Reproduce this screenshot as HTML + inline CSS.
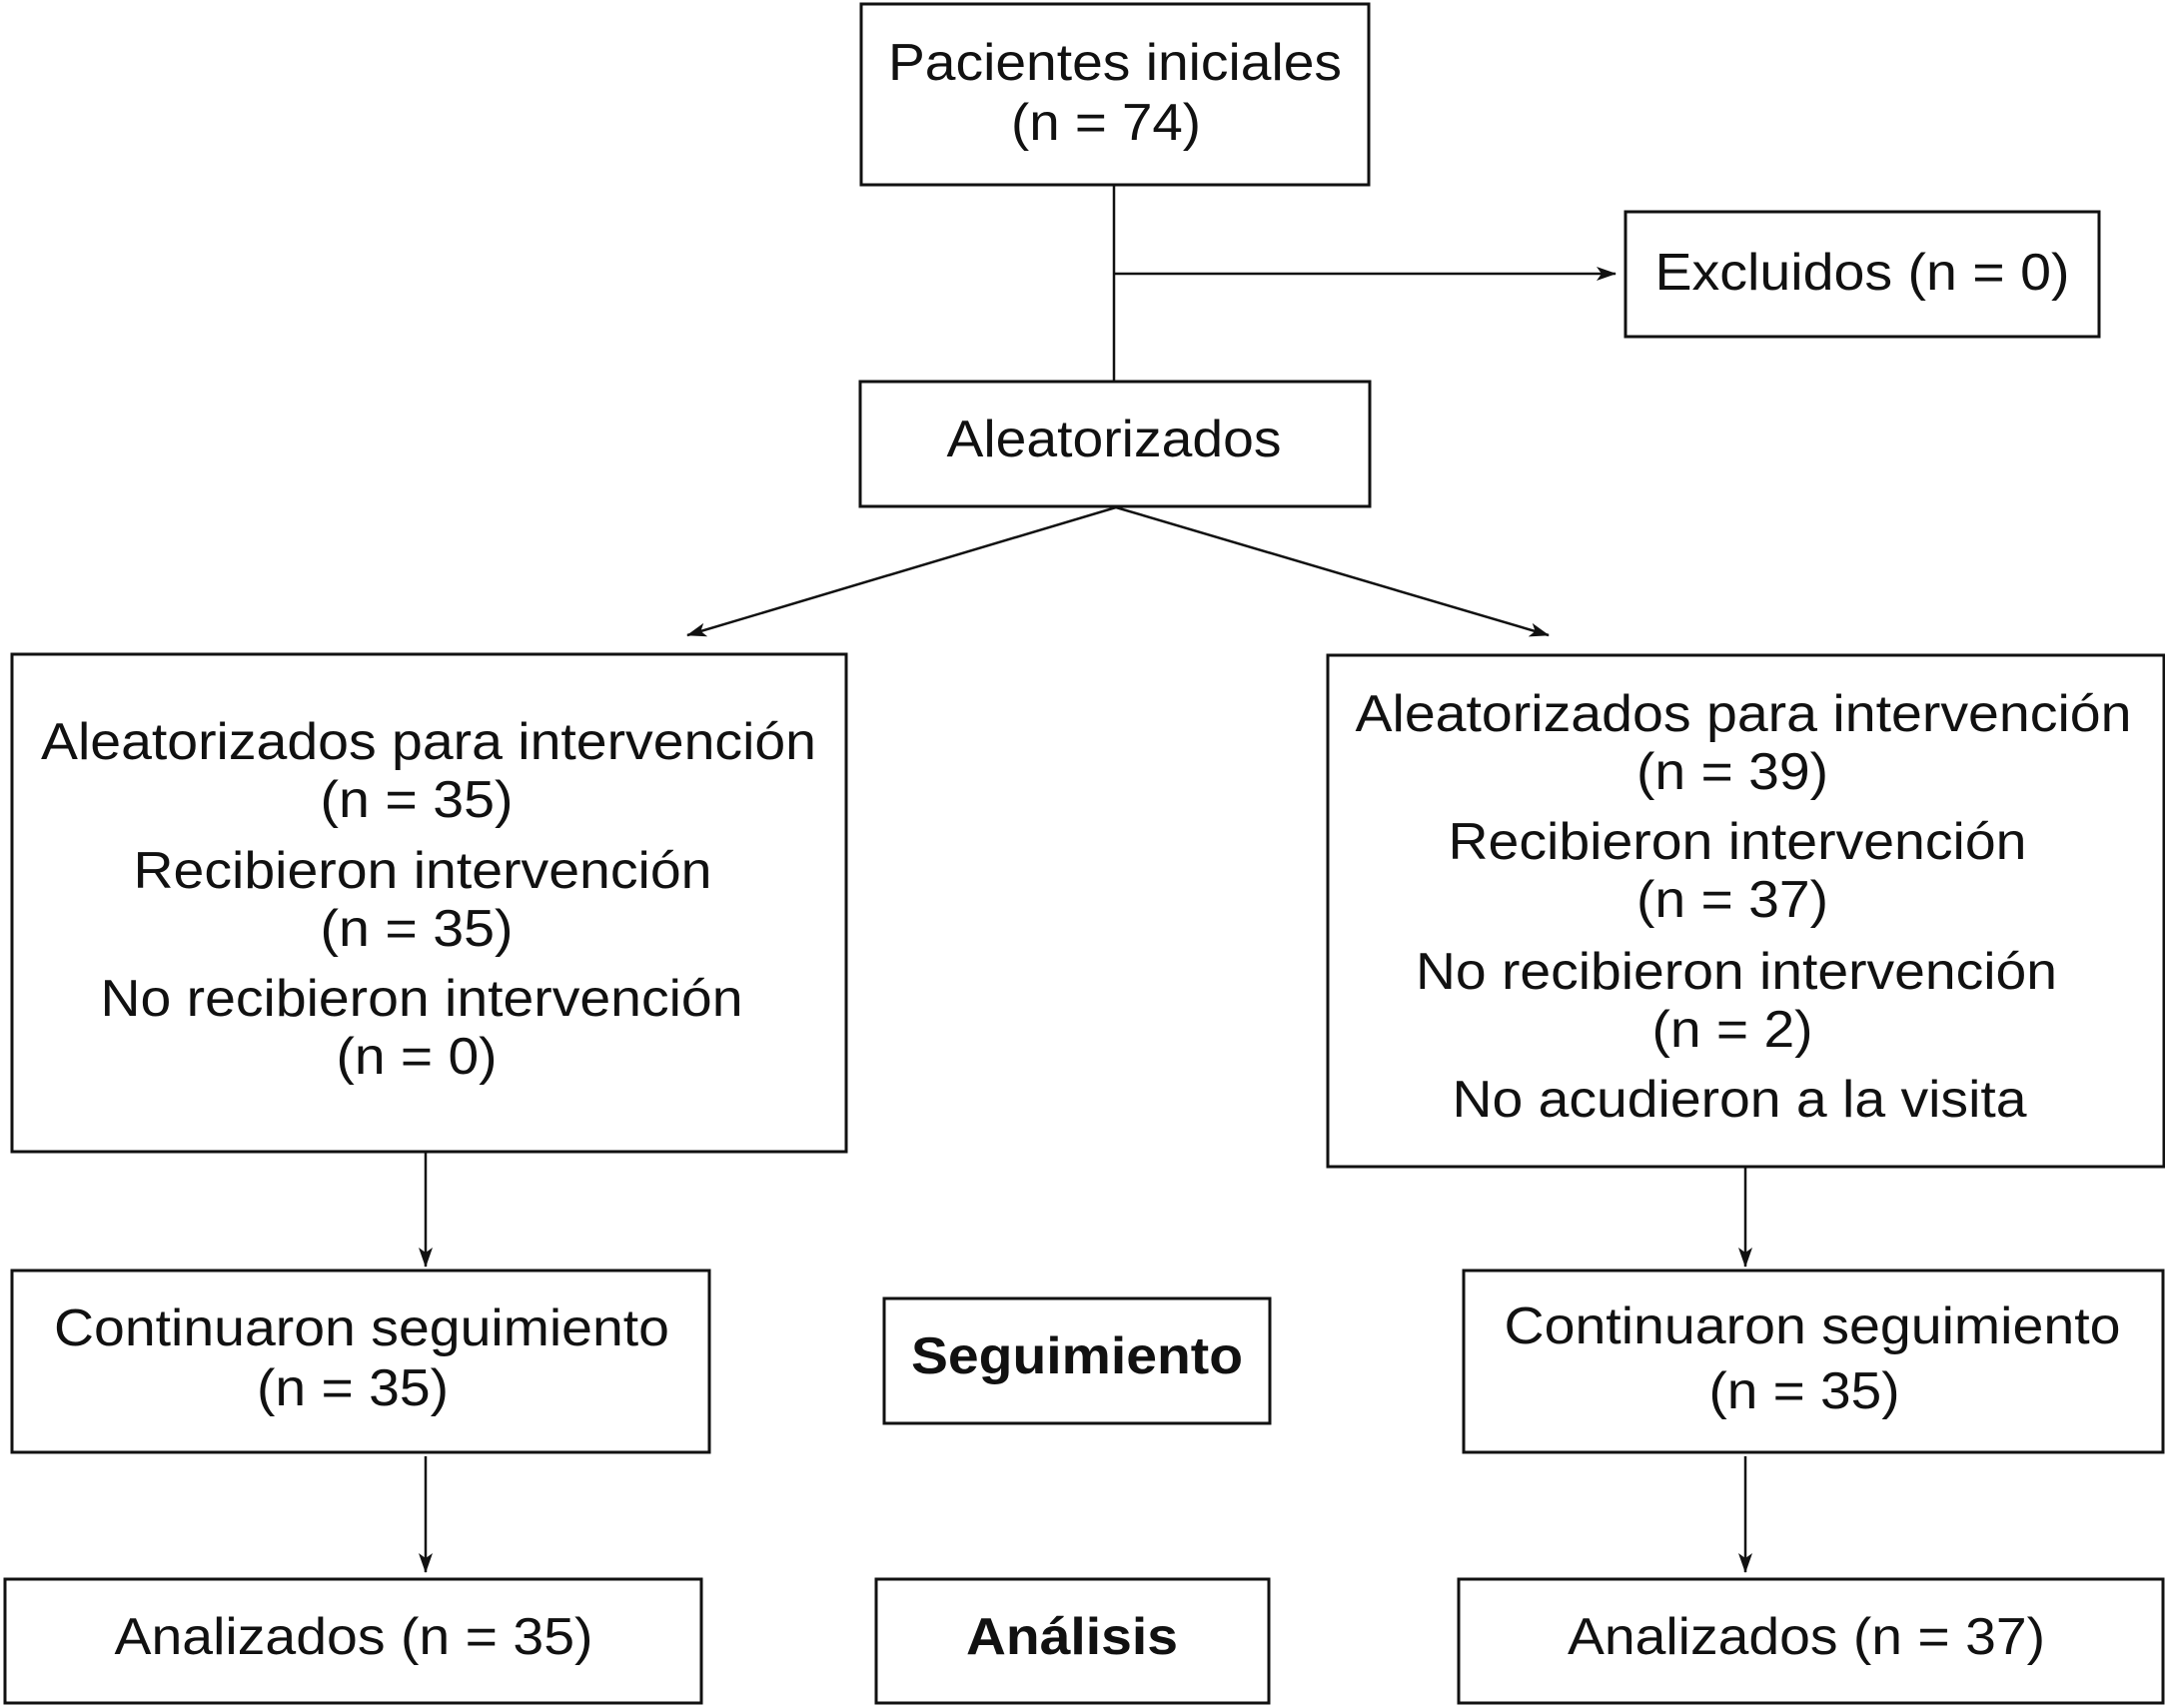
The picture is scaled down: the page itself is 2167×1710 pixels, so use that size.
<!DOCTYPE html>
<html><head><meta charset="utf-8"><style>
html,body{margin:0;padding:0;background:#fff;}
svg{display:block;}
text{font-family:"Liberation Sans Narrow","Liberation Sans",sans-serif;font-size:52px;fill:#111;}
.b{font-weight:bold;}
</style></head><body>
<svg width="2167" height="1710" viewBox="0 0 2167 1710" xmlns="http://www.w3.org/2000/svg">
<defs>
<marker id="ar" viewBox="0 0 20 14" refX="19" refY="7" markerWidth="20" markerHeight="14" markerUnits="userSpaceOnUse" orient="auto">
<path d="M0,0 L20,7 L0,14 L5,7 Z" fill="#111"/>
</marker>
</defs>
<g fill="none" stroke="#111" stroke-width="3">
<rect x="862" y="4" width="508" height="181"/>
<rect x="1627" y="212" width="474" height="125"/>
<rect x="861" y="382" width="510" height="125"/>
<rect x="12" y="655" width="835" height="498"/>
<rect x="1329" y="656" width="837" height="512"/>
<rect x="12" y="1272" width="698" height="182"/>
<rect x="885" y="1300" width="386" height="125"/>
<rect x="1465" y="1272" width="700" height="182"/>
<rect x="5" y="1581" width="697" height="124"/>
<rect x="877" y="1581" width="393" height="124"/>
<rect x="1460" y="1581" width="705" height="124"/>
</g>
<g stroke="#111" stroke-width="2.5" fill="none">
<line x1="1115" y1="185" x2="1115" y2="382"/>
<line x1="1115" y1="274" x2="1617" y2="274" marker-end="url(#ar)"/>
<line x1="1117" y1="508" x2="688" y2="636" marker-end="url(#ar)"/>
<line x1="1117" y1="508" x2="1550" y2="636" marker-end="url(#ar)"/>
<line x1="426" y1="1153" x2="426" y2="1268" marker-end="url(#ar)"/>
<line x1="426" y1="1458" x2="426" y2="1574" marker-end="url(#ar)"/>
<line x1="1747" y1="1168" x2="1747" y2="1268" marker-end="url(#ar)"/>
<line x1="1747" y1="1458" x2="1747" y2="1574" marker-end="url(#ar)"/>
</g>
<g text-anchor="middle" lengthAdjust="spacingAndGlyphs">
<text x="1116" y="80" textLength="454" lengthAdjust="spacingAndGlyphs">Pacientes iniciales</text>
<text x="1107" y="140" textLength="190" lengthAdjust="spacingAndGlyphs">(n = 74)</text>
<text x="1864" y="290" textLength="415" lengthAdjust="spacingAndGlyphs">Excluidos (n = 0)</text>
<text x="1115" y="457" textLength="335" lengthAdjust="spacingAndGlyphs">Aleatorizados</text>

<text x="429" y="760" textLength="776" lengthAdjust="spacingAndGlyphs">Aleatorizados para intervención</text>
<text x="417" y="818" textLength="193" lengthAdjust="spacingAndGlyphs">(n = 35)</text>
<text x="423" y="889" textLength="579" lengthAdjust="spacingAndGlyphs">Recibieron intervención</text>
<text x="417" y="947" textLength="193" lengthAdjust="spacingAndGlyphs">(n = 35)</text>
<text x="422" y="1017" textLength="643" lengthAdjust="spacingAndGlyphs">No recibieron intervención</text>
<text x="417" y="1075" textLength="161" lengthAdjust="spacingAndGlyphs">(n = 0)</text>

<text x="1745" y="732" textLength="777" lengthAdjust="spacingAndGlyphs">Aleatorizados para intervención</text>
<text x="1734" y="790" textLength="192" lengthAdjust="spacingAndGlyphs">(n = 39)</text>
<text x="1739" y="860" textLength="579" lengthAdjust="spacingAndGlyphs">Recibieron intervención</text>
<text x="1734" y="918" textLength="192" lengthAdjust="spacingAndGlyphs">(n = 37)</text>
<text x="1738" y="990" textLength="642" lengthAdjust="spacingAndGlyphs">No recibieron intervención</text>
<text x="1734" y="1048" textLength="161" lengthAdjust="spacingAndGlyphs">(n = 2)</text>
<text x="1741" y="1118" textLength="575" lengthAdjust="spacingAndGlyphs">No acudieron a la visita</text>

<text x="362" y="1347" textLength="616" lengthAdjust="spacingAndGlyphs">Continuaron seguimiento</text>
<text x="353" y="1407" textLength="192" lengthAdjust="spacingAndGlyphs">(n = 35)</text>
<text class="b" x="1078" y="1375" textLength="332" lengthAdjust="spacingAndGlyphs">Seguimiento</text>
<text x="1814" y="1345" textLength="617" lengthAdjust="spacingAndGlyphs">Continuaron seguimiento</text>
<text x="1806" y="1410" textLength="191" lengthAdjust="spacingAndGlyphs">(n = 35)</text>

<text x="354" y="1656" textLength="479" lengthAdjust="spacingAndGlyphs">Analizados (n = 35)</text>
<text class="b" x="1073" y="1656" textLength="212" lengthAdjust="spacingAndGlyphs">Análisis</text>
<text x="1808" y="1656" textLength="478" lengthAdjust="spacingAndGlyphs">Analizados (n = 37)</text>
</g>
</svg>
</body></html>
